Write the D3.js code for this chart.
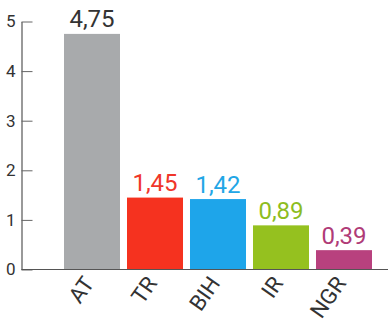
<!DOCTYPE html>
<html>
<head>
<meta charset="utf-8">
<script src="https://cdn.jsdelivr.net/npm/d3@7"></script>
<style>
  html, body { margin: 0; padding: 0; background: #fff; }
  svg { display: block; }
  text { font-family: Roboto, "DejaVu Sans Condensed", sans-serif; }
</style>
</head>
<body>
<svg id="chart" width="388" height="322"></svg>
<script>
// Categories, values, value labels and colours
const categories = ["AT", "TR", "BIH", "IR", "NGR"];
const values = [4.75, 1.45, 1.42, 0.89, 0.39];
const valueLabels = ["4,75", "1,45", "1,42", "0,89", "0,39"];
const barColors = ["#a8aaac", "#f5321f", "#1ea5ea", "#95c11f", "#b8417e"];
const labelColors = ["#333333", "#f0362a", "#22a6e6", "#8dbd1e", "#b03b77"];
const yTicks = [0, 1, 2, 3, 4, 5];

const svg = d3.select("#chart");
const axisX = 21.5, baseY = 269.5, topY = 21.5, rightX = 388;

const x = d3.scaleBand()
  .domain(categories)
  .range([64, 372])
  .paddingInner(0.111)
  .paddingOuter(0);

const y = d3.scaleLinear().domain([0, 5]).range([baseY, topY]);

// Bars
svg.append("g").selectAll("rect")
  .data(categories)
  .join("rect")
  .attr("x", d => x(d))
  .attr("width", x.bandwidth())
  .attr("y", (d, i) => y(values[i]))
  .attr("height", (d, i) => y(0) - y(values[i]))
  .attr("fill", (d, i) => barColors[i]);

// Value labels above the bars
svg.append("g").selectAll("text")
  .data(categories)
  .join("text")
  .attr("x", d => x(d) + x.bandwidth() / 2)
  .attr("y", (d, i) => y(values[i]) - 6.5)
  .attr("text-anchor", "middle")
  .attr("font-size", 24)
  .attr("fill", (d, i) => labelColors[i])
  .text((d, i) => valueLabels[i]);

// Y axis with inward ticks
const yAxis = d3.axisLeft(y)
  .tickValues(yTicks)
  .tickSizeInner(-11)
  .tickSizeOuter(0)
  .tickPadding(6)
  .tickFormat(d3.format("d"));

const gy = svg.append("g")
  .attr("transform", `translate(${axisX},0)`)
  .call(yAxis);
gy.select(".domain").attr("stroke", "#555").attr("stroke-width", 1.2);
gy.selectAll(".tick line").attr("stroke", "#666");
gy.selectAll(".tick text")
  .attr("font-size", 17)
  .attr("fill", "#333")
  .attr("font-family", "Roboto, 'DejaVu Sans Condensed', sans-serif");

// Baseline
svg.append("line")
  .attr("x1", axisX).attr("x2", rightX)
  .attr("y1", baseY).attr("y2", baseY)
  .attr("stroke", "#555").attr("stroke-width", 1.2);

// Rotated category labels
svg.append("g").selectAll("text")
  .data(categories)
  .join("text")
  .attr("transform", d => `translate(${x(d) + x.bandwidth() / 2 + 3},${baseY + 14}) rotate(-55)`)
  .attr("text-anchor", "end")
  .attr("font-size", 22)
  .attr("fill", "#333")
  .text(d => d);
</script>
</body>
</html>
